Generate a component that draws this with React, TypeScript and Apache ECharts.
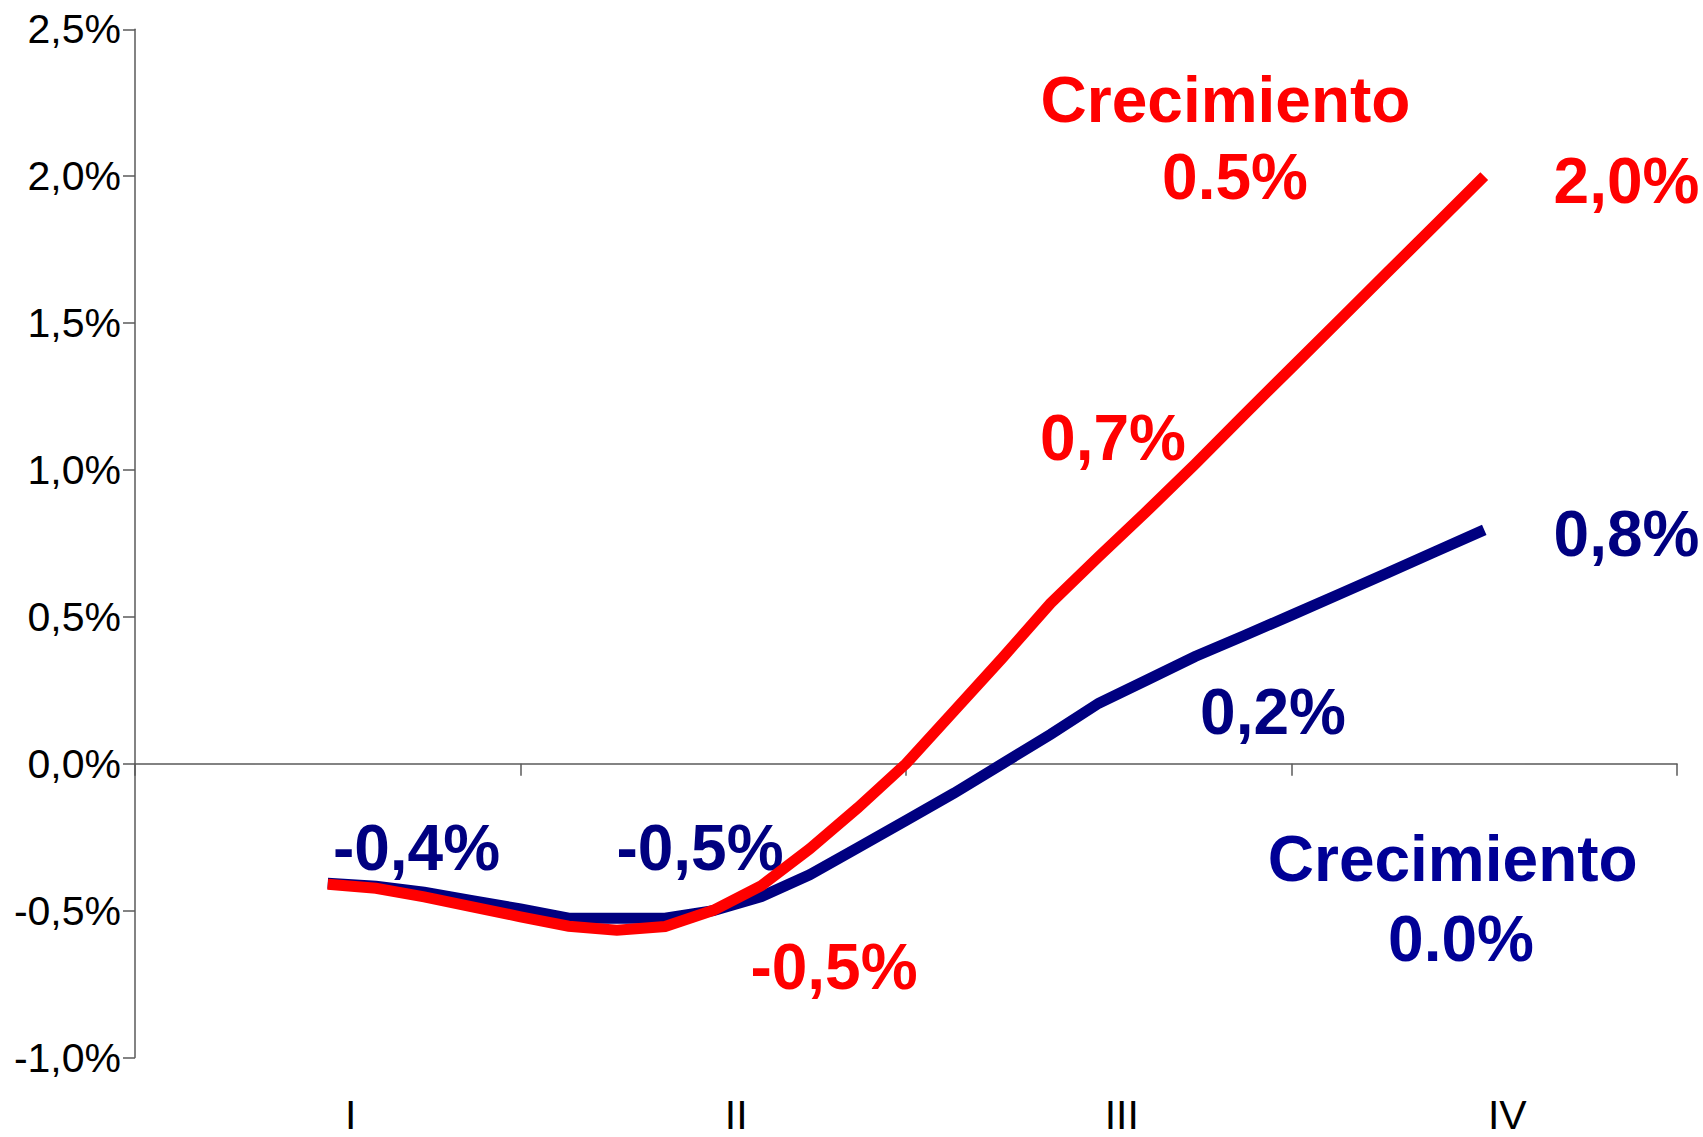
import React, { useEffect, useRef } from 'react';
import * as echarts from 'echarts';

// Category labels (quarters)
const quarters = ['I', 'II', 'III', 'IV'];

// Position of each observation along the quarter axis (0 = start of I, 4 = end of IV)
const periodPos = [
  0.5, 0.625, 0.75, 0.875, 1.0, 1.125, 1.25, 1.375, 1.5, 1.625, 1.75, 1.875,
  2.0, 2.125, 2.25, 2.375, 2.5, 2.625, 2.75, 2.875, 3.0, 3.125, 3.25, 3.375, 3.5,
];

// Scenario "Crecimiento 0.5%" (red), values in %
const crecimiento05 = [
  -0.41, -0.424, -0.453, -0.487, -0.521, -0.553, -0.567, -0.554, -0.499, -0.415,
  -0.29, -0.15, 0.0, 0.18, 0.36, 0.546, 0.705, 0.86, 1.02, 1.185, 1.348, 1.511,
  1.674, 1.837, 2.0,
];

// Scenario "Crecimiento 0.0%" (navy), values in %
const crecimiento00 = [
  -0.407, -0.417, -0.437, -0.466, -0.494, -0.526, -0.526, -0.526, -0.5, -0.452,
  -0.378, -0.286, -0.193, -0.1, 0.0, 0.1, 0.206, 0.285, 0.365, 0.435, 0.506, 0.578,
  0.65, 0.723, 0.796,
];

// Y axis range (%)
const yMin = -1;
const yMax = 2.5;
const yStep = 0.5;

const RED = '#FF0000';
const NAVY = '#000080';
const NAVY2 = '#000096';
const FONT = "'Liberation Sans', Arial, Helvetica, sans-serif";

export default function App() {
  const ref = useRef<HTMLDivElement>(null);

  useEffect(() => {
    document.body.style.margin = '0';
    document.body.style.overflow = 'hidden';
    const chart = echarts.init(ref.current as HTMLDivElement, null, { renderer: 'svg' });
    const axisGray = '#5a5a5a';
    const gridBox = { left: 135, right: 26, top: 29.3, bottom: 79.5 };

    const txt = (text: string, x: number, y: number, color: string) => ({
      type: 'text',
      x,
      y,
      silent: true,
      style: {
        text,
        fill: color,
        fontSize: 64,
        fontWeight: 'bold',
        fontFamily: FONT,
        align: 'center',
        verticalAlign: 'middle',
        textAlign: 'center',
        textVerticalAlign: 'middle',
      },
    });

    chart.setOption({
      animation: false,
      backgroundColor: '#ffffff',
      grid: [
        { ...gridBox, outerBoundsMode: 'none' },
        { ...gridBox, outerBoundsMode: 'none' },
      ],
      xAxis: [
        {
          type: 'category',
          gridIndex: 0,
          data: quarters,
          boundaryGap: true,
          axisLine: { show: true, onZero: true, lineStyle: { color: axisGray, width: 1.5 } },
          axisTick: { show: true, length: 12, lineStyle: { color: axisGray, width: 1.5 } },
          axisLabel: { show: false },
          splitLine: { show: false },
        },
        {
          type: 'value',
          gridIndex: 0,
          min: 0,
          max: 4,
          show: false,
          splitLine: { show: false },
        },
        {
          type: 'category',
          gridIndex: 1,
          data: quarters,
          position: 'bottom',
          boundaryGap: true,
          axisLine: { show: false, onZero: false },
          axisTick: { show: false },
          splitLine: { show: false },
          axisLabel: {
            fontSize: 41,
            lineHeight: 30,
            fontFamily: FONT,
            color: '#000',
            margin: 42,
            padding: [0, 0, 0, 46],
          },
        },
      ],
      yAxis: [
        {
          type: 'value',
          gridIndex: 0,
          min: yMin,
          max: yMax,
          interval: yStep,
          axisLine: { show: true, onZero: false, lineStyle: { color: axisGray, width: 1.5 } },
          axisTick: { show: true, length: 12, lineStyle: { color: axisGray, width: 1.5 } },
          splitLine: { show: false },
          axisLabel: {
            fontSize: 41,
            fontFamily: FONT,
            color: '#000',
            margin: 14,
            formatter: (v: number) => v.toFixed(1).replace('.', ',') + '%',
          },
        },
        { type: 'value', gridIndex: 1, min: yMin, max: yMax, show: false, splitLine: { show: false } },
      ],
      series: [
        {
          name: 'Crecimiento 0.0%',
          type: 'line',
          xAxisIndex: 1,
          yAxisIndex: 0,
          data: periodPos.map((x, i) => [x, crecimiento00[i]]),
          symbol: 'none',
          showSymbol: false,
          lineStyle: { color: NAVY, width: 11, join: 'miter' },
          z: 2,
        },
        {
          name: 'Crecimiento 0.5%',
          type: 'line',
          xAxisIndex: 1,
          yAxisIndex: 0,
          data: periodPos.map((x, i) => [x, crecimiento05[i]]),
          symbol: 'none',
          showSymbol: false,
          lineStyle: { color: RED, width: 11, join: 'miter' },
          z: 3,
        },
      ],
      graphic: [
        txt('Crecimiento', 1225.5, 100, RED),
        txt('0.5%', 1235, 177, RED),
        txt('2,0%', 1626.5, 180.5, RED),
        txt('0,7%', 1113, 438, RED),
        txt('-0,5%', 834, 966.5, RED),
        txt('-0,4%', 416.5, 847.5, NAVY),
        txt('-0,5%', 700, 847.5, NAVY),
        txt('0,2%', 1273, 711.5, NAVY),
        txt('0,8%', 1626.5, 534, NAVY),
        txt('Crecimiento', 1452.7, 858.5, NAVY2),
        txt('0.0%', 1461, 939, NAVY2),
      ],
    });

    return () => chart.dispose();
  }, []);

  return <div ref={ref} style={{ width: 1703, height: 1137 }} />;
}
